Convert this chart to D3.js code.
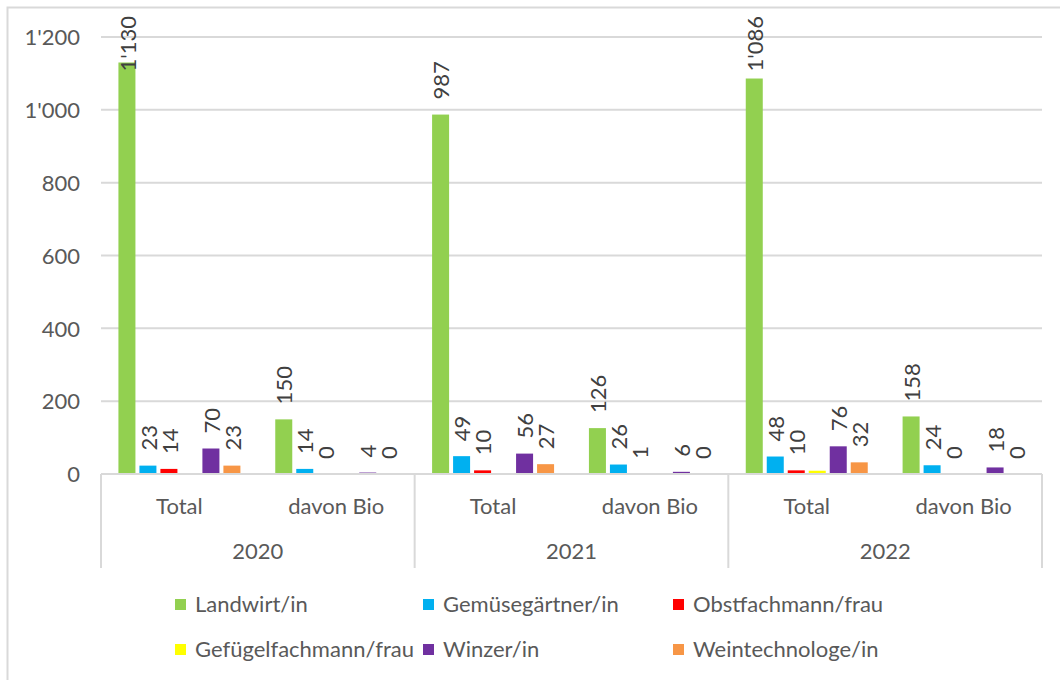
<!DOCTYPE html>
<html>
<head>
<meta charset="utf-8">
<script src="https://cdn.jsdelivr.net/npm/d3@7"></script>
<style>
  body { margin: 0; background: #fff; }
  svg { display: block; font-family: Lato, "Open Sans", sans-serif; }
</style>
</head>
<body>
<div id="chart"></div>
<script>
// data
var years = ['2020', '2021', '2022'];
var subCats = ['Total', 'davon Bio'];
var series = ['Landwirt/in', 'Gemüsegärtner/in', 'Obstfachmann/frau',
    'Gefügelfachmann/frau', 'Winzer/in', 'Weintechnologe/in'];
var colors = ['#92d050', '#00b0f0', '#ff0000', '#ffff00', '#7030a0', '#f79646'];
// one entry per year/subcategory: 2020 Total, 2020 Bio, 2021 Total, ...
var landwirt = [1130, 150, 987, 126, 1086, 158];
var gemuese = [23, 14, 49, 26, 48, 24];
var obst = [14, 0, 10, 1, 10, 0];
var gefluegel = [null, null, null, null, 9, null];
var winzer = [70, 4, 56, 6, 76, 18];
var wein = [23, 0, 27, 0, 32, 0];
var showLabel = [true, true, true, false, true, true];
var yTicks = [0, 200, 400, 600, 800, 1000, 1200];

var values = [landwirt, gemuese, obst, gefluegel, winzer, wein];

var width = 1060, height = 680;
var plotLeft = 101, plotRight = 1042, plotTop = 37, plotBottom = 474;
var textColor = '#595959', gridColor = '#d9d9d9';
var fontSize = '22px';

var fmt = d3.formatLocale({ decimal: '.', thousands: "'", grouping: [3], currency: ['', ''] }).format(',d');

var svg = d3.select('#chart').append('svg')
    .attr('width', width)
    .attr('height', height);

// chart border (only top & left visible in the crop)
svg.append('path')
    .attr('d', 'M7.5,' + height + 'V7.5H' + width)
    .attr('fill', 'none')
    .attr('stroke', gridColor)
    .attr('stroke-width', 2);

var yScale = d3.scaleLinear().domain([0, 1200]).range([plotBottom, plotTop]);
var xYear = d3.scaleBand().domain(years).range([plotLeft, plotRight]);
var xSub = d3.scaleBand().domain(subCats).range([0, xYear.bandwidth()]);
var xSer = d3.scaleBand().domain(series).range([0, xSub.bandwidth()])
    .paddingInner(0.19).paddingOuter(0.83);

// gridlines
svg.append('g').selectAll('line')
    .data(yTicks.slice(1))
    .enter().append('line')
    .attr('x1', plotLeft).attr('x2', plotRight)
    .attr('y1', function (d) { return yScale(d); })
    .attr('y2', function (d) { return yScale(d); })
    .attr('stroke', gridColor)
    .attr('stroke-width', 2);

// y axis
var yAxis = d3.axisLeft(yScale).tickValues(yTicks).tickFormat(fmt).tickSize(0).tickPadding(0);
var yG = svg.append('g').attr('transform', 'translate(80,0)').call(yAxis);
yG.select('.domain').remove();
yG.attr('font-family', null).attr('font-size', null);
yG.selectAll('text')
    .attr('fill', textColor)
    .style('font-size', fontSize)
    .attr('dy', '0.35em');

// bars
var rows = [];
years.forEach(function (y, yi) {
    subCats.forEach(function (s, si) {
        var idx = yi * 2 + si;
        series.forEach(function (name, k) {
            rows.push({ year: y, sub: s, series: name, k: k, value: values[k][idx] });
        });
    });
});

function barX(d) {
    return xYear(d.year) + xSub(d.sub) + xSer(d.series);
}

svg.append('g').selectAll('rect')
    .data(rows.filter(function (d) { return d.value != null; }))
    .enter().append('rect')
    .attr('x', barX)
    .attr('y', function (d) { return yScale(d.value); })
    .attr('width', xSer.bandwidth())
    .attr('height', function (d) { return plotBottom - yScale(d.value); })
    .attr('fill', function (d) { return colors[d.k]; });

// data labels, rotated; pushed down when they would leave the chart top
var labels = svg.append('g').selectAll('text')
    .data(rows.filter(function (d) { return d.value != null && showLabel[d.k]; }))
    .enter().append('text')
    .text(function (d) { return fmt(d.value); })
    .attr('fill', '#404040')
    .style('font-size', fontSize)
    .attr('text-anchor', 'start')
    .attr('dy', '0.35em');

labels.each(function (d) {
    var len = this.getComputedTextLength();
    var yStart = Math.max(yScale(d.value) - 15, 16 + len);
    var cx = barX(d) + xSer.bandwidth() / 2 + 1;
    d3.select(this).attr('transform', 'translate(' + cx + ',' + yStart + ') rotate(-90)');
});

// category axis
svg.append('line')
    .attr('x1', plotLeft).attr('x2', plotRight)
    .attr('y1', plotBottom).attr('y2', plotBottom)
    .attr('stroke', gridColor).attr('stroke-width', 2);

var seps = years.map(function (y) { return xYear(y); }).concat([plotRight]);
svg.append('g').selectAll('line')
    .data(seps)
    .enter().append('line')
    .attr('x1', function (d) { return d; })
    .attr('x2', function (d) { return d; })
    .attr('y1', plotBottom).attr('y2', 568)
    .attr('stroke', gridColor).attr('stroke-width', 2);

years.forEach(function (y) {
    subCats.forEach(function (s) {
        svg.append('text')
            .attr('x', xYear(y) + xSub(s) + xSub.bandwidth() / 2)
            .attr('y', 506)
            .attr('dy', '0.35em')
            .attr('text-anchor', 'middle')
            .attr('fill', textColor)
            .style('font-size', fontSize)
            .text(s);
    });
    svg.append('text')
        .attr('x', xYear(y) + xYear.bandwidth() / 2)
        .attr('y', 551)
        .attr('dy', '0.35em')
        .attr('text-anchor', 'middle')
        .attr('fill', textColor)
        .style('font-size', fontSize)
        .text(y);
});

// legend
var legX = [175, 423, 673];
var legY = [604, 649];
var leg = svg.append('g').selectAll('g')
    .data(series)
    .enter().append('g')
    .attr('transform', function (d, i) {
        return 'translate(' + legX[i % 3] + ',' + legY[Math.floor(i / 3)] + ')';
    });
leg.append('rect')
    .attr('x', 0).attr('y', -5)
    .attr('width', 11).attr('height', 11)
    .attr('fill', function (d, i) { return colors[i]; });
leg.append('text')
    .attr('x', 20)
    .attr('dy', '0.35em')
    .attr('fill', textColor)
    .style('font-size', fontSize)
    .text(function (d) { return d; });
</script>
</body>
</html>
